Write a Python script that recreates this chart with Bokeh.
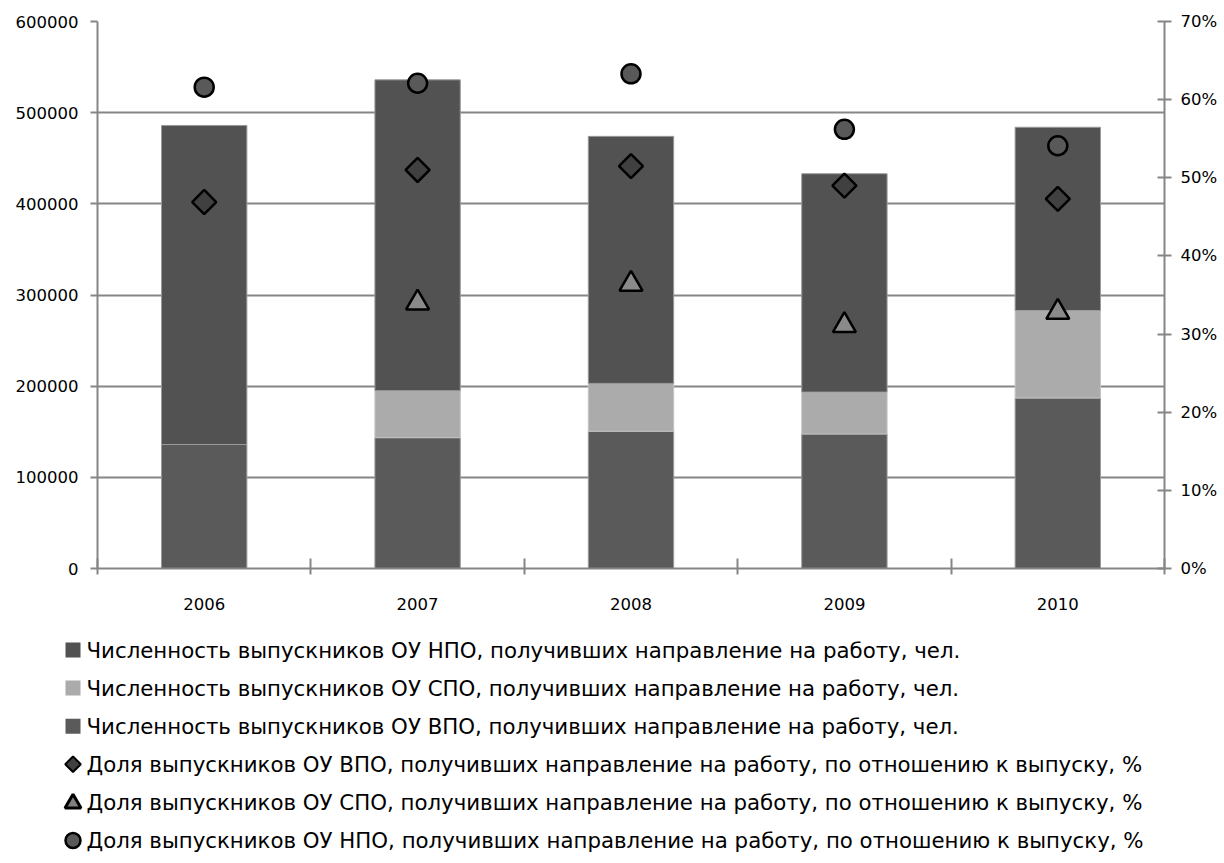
import math
import numpy as np
from bokeh.plotting import figure
from bokeh.models import Range1d, LinearAxis, FixedTicker, PrintfTickFormatter
from bokeh.layouts import column
from bokeh.core.properties import value
from bokeh.embed import file_html
from bokeh.resources import INLINE

# ---------------- data ----------------
years = ["2006", "2007", "2008", "2009", "2010"]
# stacked bars (bottom -> top)
vpo_count = [136000, 143500, 150500, 147500, 187000]
spo_count = [0, 51500, 52500, 46000, 96000]
npo_count = [350000, 341000, 271000, 239500, 201000]
# shares, %
vpo_share = [46.9, 51.0, 51.5, 49.0, 47.3]
spo_share = [float("nan"), 34.0, 36.4, 31.1, 32.8]
npo_share = [61.6, 62.1, 63.3, 56.2, 54.1]

left_ticks = [0, 100000, 200000, 300000, 400000, 500000, 600000]
right_ticks = [0, 10, 20, 30, 40, 50, 60, 70]

legend_labels = [
    "Численность выпускников ОУ НПО, получивших направление на работу, чел.",
    "Численность выпускников ОУ СПО, получивших направление на работу, чел.",
    "Численность выпускников ОУ ВПО, получивших направление на работу, чел.",
    "Доля выпускников ОУ ВПО, получивших направление на работу, по отношению к выпуску, %",
    "Доля выпускников ОУ СПО, получивших направление на работу, по отношению к выпуску, %",
    "Доля выпускников ОУ НПО, получивших направление на работу, по отношению к выпуску, %",
]

# ---------------- styles ----------------
AX = "#868686"
FONT = "DejaVu Sans"
TICK_FS = "16.5px"
C_TOP = "#525252"
C_MID = "#ababab"
C_BOT = "#5a5a5a"

W = 1220
H = 632

n = len(years)
xpos = [i + 0.5 for i in range(n)]
b0 = np.zeros(n)
t0 = b0 + np.array(vpo_count)
t1 = t0 + np.array(spo_count)
t2 = t1 + np.array(npo_count)

p = figure(width=W, height=H, x_range=Range1d(0, n), y_range=Range1d(0, 600000),
           output_backend="svg", toolbar_location=None,
           min_border_left=97, min_border_right=W - 1168, min_border_top=21,
           min_border_bottom=H - 568)
p.outline_line_color = None
p.background_fill_color = "white"
p.xgrid.visible = False
p.ygrid.ticker = FixedTicker(ticks=left_ticks)
p.ygrid.grid_line_color = AX
p.ygrid.grid_line_width = 2

# left axis
ya = p.yaxis[0]
ya.ticker = FixedTicker(ticks=left_ticks)
ya.formatter = PrintfTickFormatter(format="%d")
ya.axis_line_color = AX
ya.axis_line_width = 2
ya.major_tick_line_color = AX
ya.major_tick_line_width = 2
ya.major_tick_in = 0
ya.major_tick_out = 7
ya.minor_tick_line_color = None
ya.major_label_standoff = 12
ya.major_label_text_font = FONT
ya.major_label_text_font_size = TICK_FS
ya.major_label_text_color = "black"

# x axis
xa = p.xaxis[0]
xa.ticker = FixedTicker(ticks=xpos, minor_ticks=list(range(n + 1)))
xa.major_label_overrides = {x: y for x, y in zip(xpos, years)}
xa.axis_line_color = AX
xa.axis_line_width = 2
xa.major_tick_line_color = None
xa.major_tick_in = 0
xa.major_tick_out = 0
xa.minor_tick_line_color = AX
xa.minor_tick_line_width = 2
xa.minor_tick_in = 10
xa.minor_tick_out = 6
xa.major_label_standoff = 23
xa.major_label_text_font = FONT
xa.major_label_text_font_size = TICK_FS
xa.major_label_text_color = "black"

# right axis
p.extra_y_ranges = {"pct": Range1d(0, 70)}
ra = LinearAxis(y_range_name="pct", ticker=FixedTicker(ticks=right_ticks),
                formatter=PrintfTickFormatter(format="%d%%"))
ra.axis_line_color = AX
ra.axis_line_width = 2
ra.major_tick_line_color = AX
ra.major_tick_line_width = 2
ra.major_tick_in = 7
ra.major_tick_out = 7
ra.minor_tick_line_color = None
ra.major_label_standoff = 9
ra.major_label_text_font = FONT
ra.major_label_text_font_size = TICK_FS
ra.major_label_text_color = "black"
p.add_layout(ra, "right")

# bars
BW = 0.4
p.vbar(x=xpos, width=BW, bottom=b0, top=t0, fill_color=C_BOT, line_color="#9a9a9a", line_width=1)
p.vbar(x=xpos, width=BW, bottom=t0, top=t1, fill_color=C_MID, line_color="#c4c4c4", line_width=1)
p.vbar(x=xpos, width=BW, bottom=t1, top=t2, fill_color=C_TOP, line_color="#9a9a9a", line_width=1)

# markers
p.scatter(x=xpos, y=vpo_share, y_range_name="pct", marker="square", angle=math.pi / 4,
          size=17, fill_color="#404040", line_color="black", line_width=2.5)
p.scatter(x=xpos, y=spo_share, y_range_name="pct", marker="triangle",
          size=23, fill_color="#8a8a8a", line_color="black", line_width=2.5)
p.scatter(x=xpos, y=npo_share, y_range_name="pct", marker="circle",
          size=19, fill_color="#595959", line_color="black", line_width=2.5)

# ---------------- legend (separate panel) ----------------
LH = 230
lf = figure(width=W, height=LH, x_range=Range1d(0, W), y_range=Range1d(LH, 0),
            output_backend="svg", toolbar_location=None, min_border=0,
            x_axis_location=None, y_axis_location=None)
lf.grid.visible = False
lf.outline_line_color = None

# do not align the legend panel's frame with the chart's frame
for fig in (p, lf):
    if "frame_align" in fig.properties():
        fig.frame_align = False

row_y = [17.5 + 38.1 * i for i in range(len(legend_labels))]
gx = 72.5
tx = 86
lf.scatter(x=[gx] * 3, y=row_y[:3], marker="square", size=15,
           fill_color=[C_TOP, C_MID, C_BOT], line_color=None)
lf.scatter(x=[gx], y=[row_y[3]], marker="square", angle=math.pi / 4, size=11,
           fill_color="#404040", line_color="black", line_width=2)
lf.scatter(x=[gx], y=[row_y[4] + 1], marker="triangle", size=16,
           fill_color="#808080", line_color="black", line_width=3)
lf.scatter(x=[gx], y=[row_y[5]], marker="circle", size=15,
           fill_color="#595959", line_color="black", line_width=2.5)
lf.text(x=[tx] * len(legend_labels), y=row_y, text=legend_labels,
        text_font=value(FONT), text_font_size="21.3px", text_baseline="middle",
        text_align="left", text_color="black")

layout = column(p, lf, spacing=0)
open("out.html", "w").write(file_html(layout, INLINE))
